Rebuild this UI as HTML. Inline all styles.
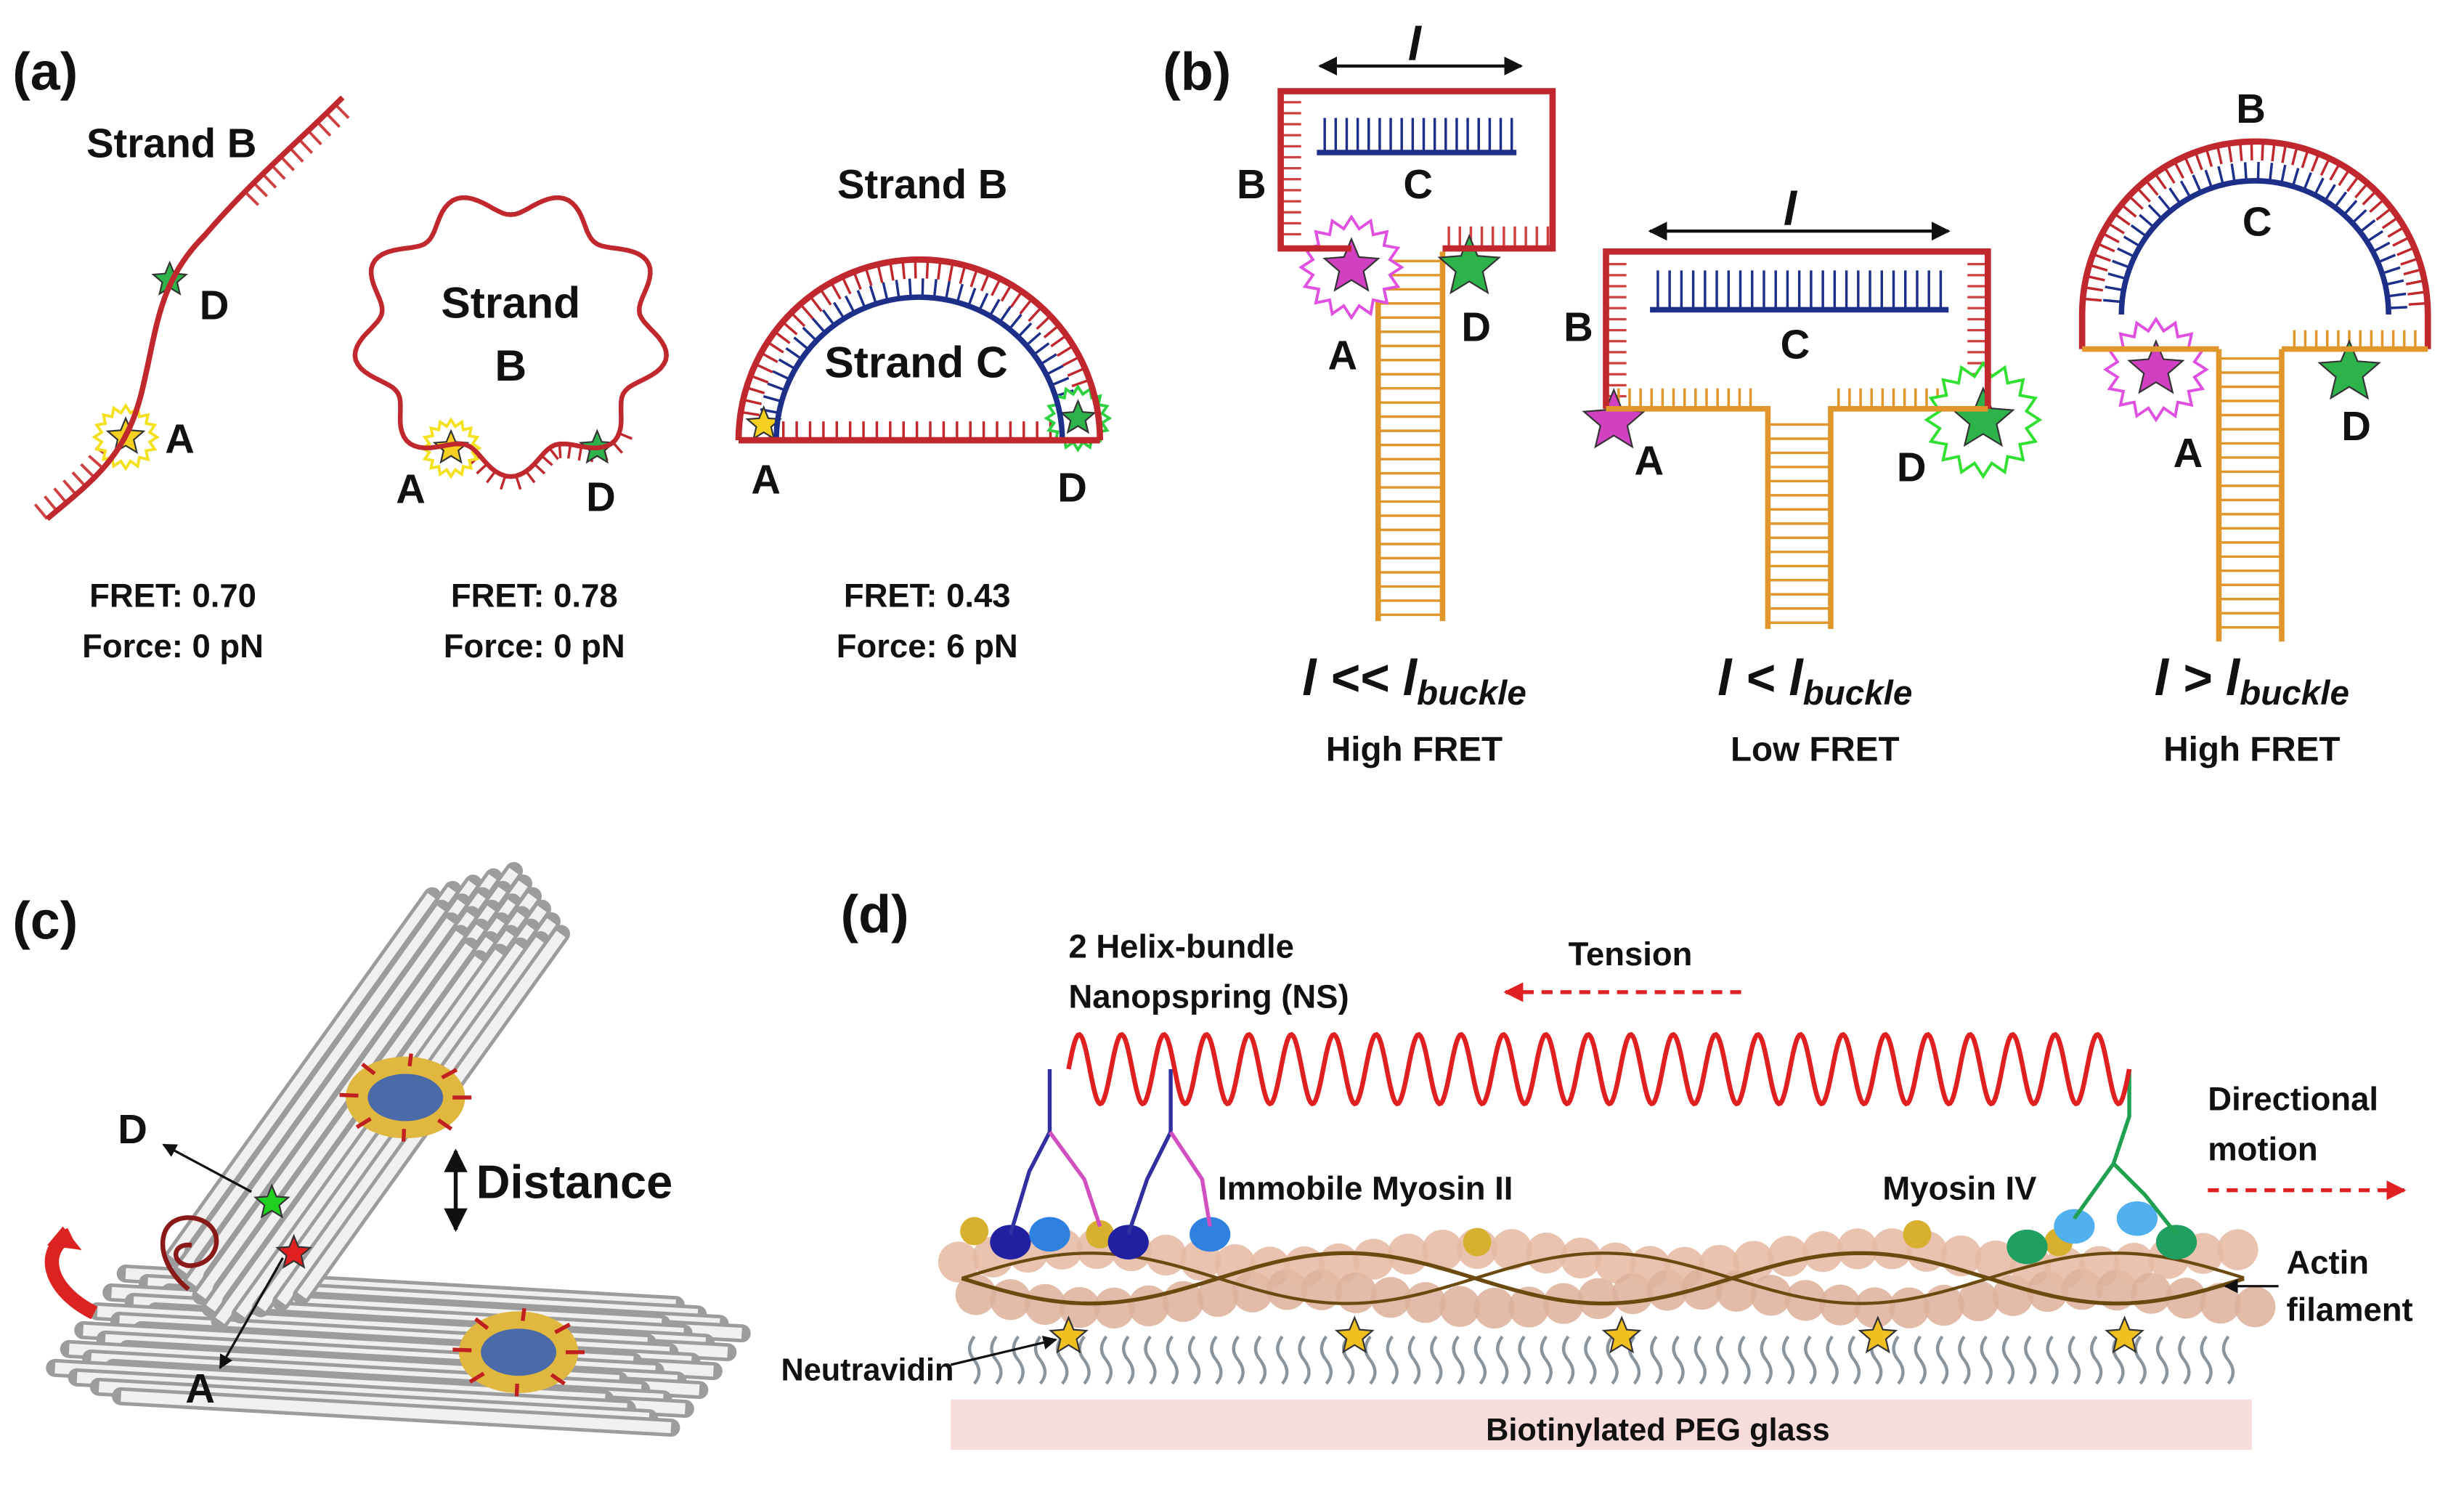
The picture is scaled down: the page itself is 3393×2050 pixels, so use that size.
<!DOCTYPE html>
<html><head><meta charset="utf-8"><style>
html,body{margin:0;padding:0;background:#fff;}
svg{display:block;}
text{font-family:"Liberation Sans",sans-serif;font-weight:bold;fill:#111;}
</style></head><body>
<svg id="s" width="3393" height="2050" viewBox="0 0 1568 947" preserveAspectRatio="none" xmlns="http://www.w3.org/2000/svg">
<defs>
<marker id="ah" viewBox="0 0 10 10" refX="9" refY="5" markerWidth="6" markerHeight="6" orient="auto-start-reverse"><path d="M0,0L10,5L0,10z" fill="#111"/></marker>
<marker id="ahr" viewBox="0 0 10 10" refX="9" refY="5" markerWidth="5" markerHeight="5" orient="auto"><path d="M0,0L10,5L0,10z" fill="#e02020"/></marker>
</defs>
<g id="g"></g>

<!-- (a) -->
<text x="8" y="57" font-size="34">(a)</text>
<path id="a1" d="M30,330 C60,305 80,290 90,250 C100,210 100,180 130,150 C160,115 190,90 218,62" fill="none" stroke="#c0282d" stroke-width="3.5"/>
<text x="55" y="100" font-size="26">Strand B</text>
<text x="127" y="203" font-size="26">D</text>
<text x="105" y="288" font-size="26">A</text>
<path id="a2" fill="none" stroke="#c0282d" stroke-width="3"/>
<text x="325" y="202" font-size="28" text-anchor="middle">Strand</text>
<text x="325" y="242" font-size="28" text-anchor="middle">B</text>
<text x="252" y="320" font-size="26">A</text>
<text x="373" y="325" font-size="26">D</text>
<path id="a3o" d="M470,280 A115,115 0 0 1 700,280" fill="none" stroke="#c0282d" stroke-width="4"/>
<path id="a3i" d="M494,280 A91,91 0 0 1 676,280" fill="none" stroke="#1e2f8a" stroke-width="3.5"/>
<path id="a3b" d="M470,280 L700,280" fill="none" stroke="#c0282d" stroke-width="4"/>
<text x="587" y="126" font-size="26" text-anchor="middle">Strand B</text>
<text x="583" y="240" font-size="28" text-anchor="middle">Strand C</text>
<text x="478" y="314" font-size="26">A</text>
<text x="673" y="319" font-size="26">D</text>
<g font-size="21" text-anchor="middle">
<text x="110" y="386">FRET: 0.70</text><text x="110" y="418">Force: 0 pN</text>
<text x="340" y="386">FRET: 0.78</text><text x="340" y="418">Force: 0 pN</text>
<text x="590" y="386">FRET: 0.43</text><text x="590" y="418">Force: 6 pN</text>
</g>

<!-- (b) -->
<text x="740" y="57" font-size="34">(b)</text>
<path d="M860,158 L815,158 L815,58 L988,58 L988,158 L918,158" fill="none" stroke="#c0282d" stroke-width="4"/>
<path d="M838,97 L965,97" stroke="#1e2f8a" stroke-width="3.5"/>
<line x1="840" y1="42" x2="968" y2="42" stroke="#111" stroke-width="2" marker-start="url(#ah)" marker-end="url(#ah)"/>
<text x="896" y="38" font-size="30" font-style="italic">l</text>
<text x="787" y="126" font-size="26">B</text>
<text x="893" y="126" font-size="26">C</text>
<text x="845" y="235" font-size="26">A</text>
<text x="930" y="217" font-size="26">D</text>
<path d="M1022,260 L1022,160 L1265,160 L1265,260" fill="none" stroke="#c0282d" stroke-width="4"/>
<path d="M1022,260 L1125,260 L1125,400 M1165,400 L1165,260 L1265,260" fill="none" stroke="#e0962a" stroke-width="3.5"/>
<path d="M1050,197 L1240,197" stroke="#1e2f8a" stroke-width="3.5"/>
<line x1="1050" y1="147" x2="1240" y2="147" stroke="#111" stroke-width="2" marker-start="url(#ah)" marker-end="url(#ah)"/>
<text x="1135" y="143" font-size="30" font-style="italic">l</text>
<text x="995" y="217" font-size="26">B</text>
<text x="1133" y="228" font-size="26">C</text>
<text x="1040" y="302" font-size="26">A</text>
<text x="1207" y="306" font-size="26">D</text>
<path id="b3o" d="M1325,222 L1325,200 A110,110 0 0 1 1545,200 L1545,222" fill="none" stroke="#c0282d" stroke-width="4"/>
<path id="b3a" d="M1325,200 A110,110 0 0 1 1545,200" fill="none" stroke="none"/>
<path id="b3i" d="M1350,200 A85,85 0 0 1 1520,200" fill="none" stroke="#1e2f8a" stroke-width="3.5"/>
<path d="M1325,222 L1412,222 M1452,222 L1545,222" stroke="#e0962a" stroke-width="3.5"/>
<text x="1423" y="78" font-size="26">B</text>
<text x="1427" y="150" font-size="26">C</text>
<text x="1383" y="297" font-size="26">A</text>
<text x="1490" y="280" font-size="26">D</text>
<g font-size="32" font-style="italic" text-anchor="middle">
<text x="900" y="442">l &lt;&lt; l<tspan font-size="22" dy="6">buckle</tspan></text>
<text x="1155" y="442">l &lt; l<tspan font-size="22" dy="6">buckle</tspan></text>
<text x="1433" y="442">l &gt; l<tspan font-size="22" dy="6">buckle</tspan></text>
</g>
<g font-size="22" text-anchor="middle">
<text x="900" y="484">High FRET</text><text x="1155" y="484">Low FRET</text><text x="1433" y="484">High FRET</text>
</g>

<!-- (c) -->
<text x="8" y="597" font-size="34">(c)</text>
<g id="cbund"></g>
<path d="M120,820 C95,800 100,770 125,775 C145,780 140,805 120,805 C108,803 110,790 122,792" fill="none" stroke="#8a1a1a" stroke-width="3"/>
<path d="M60,835 C30,820 25,795 45,785" fill="none" stroke="#d22" stroke-width="9"/>
<path d="M40,780 L52,795 L30,792z" fill="#d22"/>
<line x1="160" y1="758" x2="104" y2="728" stroke="#111" stroke-width="1.5" marker-end="url(#ah)"/>
<line x1="180" y1="800" x2="140" y2="870" stroke="#111" stroke-width="1.5" marker-end="url(#ah)"/>
<text x="75" y="727" font-size="26">D</text>
<text x="118" y="892" font-size="26">A</text>
<line x1="290" y1="732" x2="290" y2="782" stroke="#111" stroke-width="2.5" marker-start="url(#ah)" marker-end="url(#ah)"/>
<text x="303" y="762" font-size="30">Distance</text>

<!-- (d) -->
<text x="535" y="593" font-size="34">(d)</text>
<text x="680" y="609" font-size="21">2 Helix-bundle</text>
<text x="680" y="641" font-size="21">Nanopspring (NS)</text>
<text x="998" y="614" font-size="21">Tension</text>
<line x1="1108" y1="631" x2="958" y2="631" stroke="#e02020" stroke-width="2.5" stroke-dasharray="7,5" marker-end="url(#ahr)"/>
<rect x="605" y="890" width="828" height="32" fill="#f8dcdc"/>
<text x="1055" y="916" font-size="20" text-anchor="middle">Biotinylated PEG glass</text>
<g id="dact"></g>
<path id="spr" fill="none" stroke="#e02020" stroke-width="3"/>
<text x="775" y="763" font-size="21">Immobile Myosin II</text>
<text x="1198" y="763" font-size="21">Myosin IV</text>
<text x="1405" y="706" font-size="21">Directional</text>
<text x="1405" y="738" font-size="21">motion</text>
<line x1="1405" y1="757" x2="1530" y2="757" stroke="#e02020" stroke-width="2.5" stroke-dasharray="7,5" marker-end="url(#ahr)"/>
<text x="1455" y="810" font-size="21">Actin</text>
<text x="1455" y="840" font-size="21">filament</text>
<line x1="1450" y1="818" x2="1416" y2="818" stroke="#111" stroke-width="1.5" marker-end="url(#ah)"/>
<text x="497" y="878" font-size="20">Neutravidin</text>
<line x1="605" y1="868" x2="672" y2="852" stroke="#111" stroke-width="1.5" marker-end="url(#ah)"/>
</svg>
<script>
var NS="http://www.w3.org/2000/svg",G=document.getElementById('g');
function el(t,a,p){var e=document.createElementNS(NS,t);for(var k in a)e.setAttribute(k,a[k]);(p||G).appendChild(e);return e;}
function ticks(id,sp,len,side,col,w,a0,a1){var p=document.getElementById(id),L=p.getTotalLength();a0=a0||0;a1=a1||L;
for(var s=a0;s<=a1;s+=sp){var q=p.getPointAtLength(s),q2=p.getPointAtLength(Math.min(L,s+0.5)),q1=p.getPointAtLength(Math.max(0,s-0.5));
var dx=q2.x-q1.x,dy=q2.y-q1.y,n=Math.hypot(dx,dy)||1,nx=-dy/n*side,ny=dx/n*side;
el('line',{x1:q.x,y1:q.y,x2:q.x+nx*len,y2:q.y+ny*len,stroke:col,'stroke-width':w});}}
function star(cx,cy,r,fill,glow,gr){if(glow){var pts=[];for(var i=0;i<32;i++){var rr=i%2?gr*0.78:gr,a=i*Math.PI/16;pts.push((cx+rr*Math.sin(a))+','+(cy-rr*Math.cos(a)));}el('polygon',{points:pts.join(' '),fill:'#fff',stroke:glow,'stroke-width':1.8});}
var pts=[];for(var i=0;i<10;i++){var rr=i%2?r*0.45:r,a=i*Math.PI/5;pts.push((cx+rr*Math.sin(a))+','+(cy-rr*Math.cos(a)));}el('polygon',{points:pts.join(' '),fill:fill,stroke:'#333','stroke-width':1});}
ticks('a1',8,12,-1,'#d04040',1.8,0,60);ticks('a1',8,12,1,'#d04040',1.8,250,400);
var d='';for(var i=0;i<=200;i++){var t=i/200*2*Math.PI,r=85+8*Math.sin(t*9);var x=325+r*1.08*Math.cos(t),y=212+r*0.98*Math.sin(t);d+=(i?'L':'M')+x.toFixed(1)+','+y.toFixed(1);}
document.getElementById('a2').setAttribute('d',d);
ticks('a2',7,9,-1,'#c0282d',1.6,80,200);
ticks('a3i',7.5,12,-1,'#1e2f8a',1.6,10);ticks('a3o',8,12,1,'#c0282d',1.6,18,340);
ticks('a3b',8.5,12,-1,'#c0282d',1.6,20,215);
star(108,178,11,'#2db34a');star(80,278,12,'#f5d020','#f5e020',20);
star(287,285,11,'#f5d020','#f5e020',18);star(380,285,11,'#2db34a');
star(486,270,11,'#f5d020');star(686,266,11,'#2db34a','#2dd040',20);
function vr(x1,x2,y,n,col,dx){for(var x=x1;x<=x2;x+=dx)el('line',{x1:x,y1:y,x2:x,y2:y+n,stroke:col,'stroke-width':1.6});}
vr(843,962,97,-22,'#1e2f8a',7);vr(1055,1236,197,-25,'#1e2f8a',7.5);
for(var y=65;y<=152;y+=7){el('line',{x1:815,y1:y,x2:828,y2:y,stroke:'#d04040','stroke-width':1.5});}
for(var y=168;y<=255;y+=7){el('line',{x1:1022,y1:y,x2:1035,y2:y,stroke:'#d04040','stroke-width':1.5});el('line',{x1:1252,y1:y,x2:1265,y2:y,stroke:'#d04040','stroke-width':1.5});}
vr(922,985,158,-14,'#d04040',7);vr(1030,1120,260,-13,'#e0962a',7);vr(1170,1258,260,-13,'#e0962a',7);vr(1460,1540,222,-12,'#e0962a',7);
function stem(x1,x2,y1,y2){el('line',{x1:x1,y1:y1,x2:x1,y2:y2,stroke:'#e0962a','stroke-width':3.5});el('line',{x1:x2,y1:y1,x2:x2,y2:y2,stroke:'#e0962a','stroke-width':3.5});for(var y=y1+6;y<y2;y+=9)el('line',{x1:x1,y1:y,x2:x2,y2:y,stroke:'#e0962a','stroke-width':1.6});}
stem(877,918,160,395);stem(1412,1452,222,408);
for(var y=270;y<398;y+=9)el('line',{x1:1125,y1:y,x2:1165,y2:y,stroke:'#e0962a','stroke-width':1.6});
ticks('b3i',7.5,12,-1,'#1e2f8a',1.6,8);ticks('b3a',7.3,12,1,'#c0282d',1.6,10);
star(860,170,18,'#d040c0','#e050e0',32);star(935,170,20,'#2db34a');
star(1027,268,20,'#d040c0');star(1262,267,20,'#2db34a','#30e030',36);
star(1372,235,18,'#d040c0','#e050e0',32);star(1495,237,20,'#2db34a');
var C=document.getElementById('cbund');
function cyl(x1,y1,x2,y2,w){el('line',{x1:x1,y1:y1,x2:x2,y2:y2,stroke:'#9c9c9c','stroke-width':w+1.5,'stroke-linecap':'round'},C);el('line',{x1:x1,y1:y1,x2:x2,y2:y2,stroke:'#f0f0f0','stroke-width':w*0.7},C);}
for(var i=0;i<6;i++)for(var j=0;j<4;j++){var ox=-i*9+j*14,oy=i*12+j*6;cyl(80+ox,810+oy,430+ox,830+oy,10);}
for(var i=0;i<6;i++)for(var j=0;j<5;j++){var ox=j*13+i*6,oy=i*8-j*4;cyl(110+ox,800+oy,275+ox,570+oy,10);}
function blob(cx,cy){el('ellipse',{cx:cx,cy:cy,rx:38,ry:26,fill:'#e0b840'},C);el('ellipse',{cx:cx,cy:cy,rx:24,ry:15,fill:'#4a6aa8'},C);for(var k=0;k<8;k++){var a=k*0.8;el('line',{x1:cx+30*Math.cos(a),y1:cy+20*Math.sin(a),x2:cx+42*Math.cos(a),y2:cy+28*Math.sin(a),stroke:'#c02020','stroke-width':2.5},C);}}
blob(258,698);blob(330,860);
G=C;star(173,765,11,'#20d020');star(187,797,11,'#e02020');G=document.getElementById('g');
var A=document.getElementById('dact');
for(var x=610;x<1430;x+=22){el('circle',{cx:x,cy:800+6*Math.sin(x/40),r:13,fill:'#e6b8a2',opacity:0.85},A);el('circle',{cx:x+11,cy:826-6*Math.sin(x/40),r:13,fill:'#ddb09a',opacity:0.85},A);}
var h1='',h2='';for(var x=612;x<=1428;x+=4){h1+=(x==612?'M':'L')+x+','+(813+16*Math.sin((x-612)/52));h2+=(x==612?'M':'L')+x+','+(813+16*Math.sin((x-612)/52+Math.PI));}
el('path',{d:h1,fill:'none',stroke:'#6b4a10','stroke-width':2.5},A);el('path',{d:h2,fill:'none',stroke:'#6b4a10','stroke-width':2},A);
for(var x=620;x<1420;x+=14){el('path',{d:'M'+x+',850 q-6,8 0,15 q6,8 0,15',fill:'none',stroke:'#8a949c','stroke-width':2},A);}
G=A;[680,862,1032,1195,1352].forEach(function(x){star(x,850,12,'#f0c020');});
[[620,783],[700,785],[940,790],[1220,785],[1310,790]].forEach(function(p){el('circle',{cx:p[0],cy:p[1],r:9,fill:'#d8b030'},A);});
function my(x,y,c){el('ellipse',{cx:x,cy:y,rx:13,ry:11,fill:c},A);}
my(643,790,'#2020a0');my(668,785,'#3080e0');my(718,790,'#2020a0');my(770,785,'#3080e0');
my(1290,793,'#20a060');my(1385,790,'#20a060');my(1320,780,'#50b0f0');my(1360,775,'#50b0f0');
function lk(pts,c){el('polyline',{points:pts,fill:'none',stroke:c,'stroke-width':2.5},A);}
lk('668,680 668,720 655,745 643,785','#3030a0');lk('668,720 690,750 700,780','#d050c0');
lk('745,680 745,720 730,750 718,785','#3030a0');lk('745,720 765,750 770,780','#d050c0');
lk('1355,680 1355,710 1345,740 1320,775','#20a050');lk('1345,740 1365,760 1385,785','#20a050');
G=document.getElementById('g');
var sp='';for(var x=680;x<=1355;x+=1){sp+=(x==680?'M':'L')+x+','+(680-22*Math.sin((x-680)/27*2*Math.PI)).toFixed(1);}
document.getElementById('spr').setAttribute('d',sp);
</script>
</body></html>
